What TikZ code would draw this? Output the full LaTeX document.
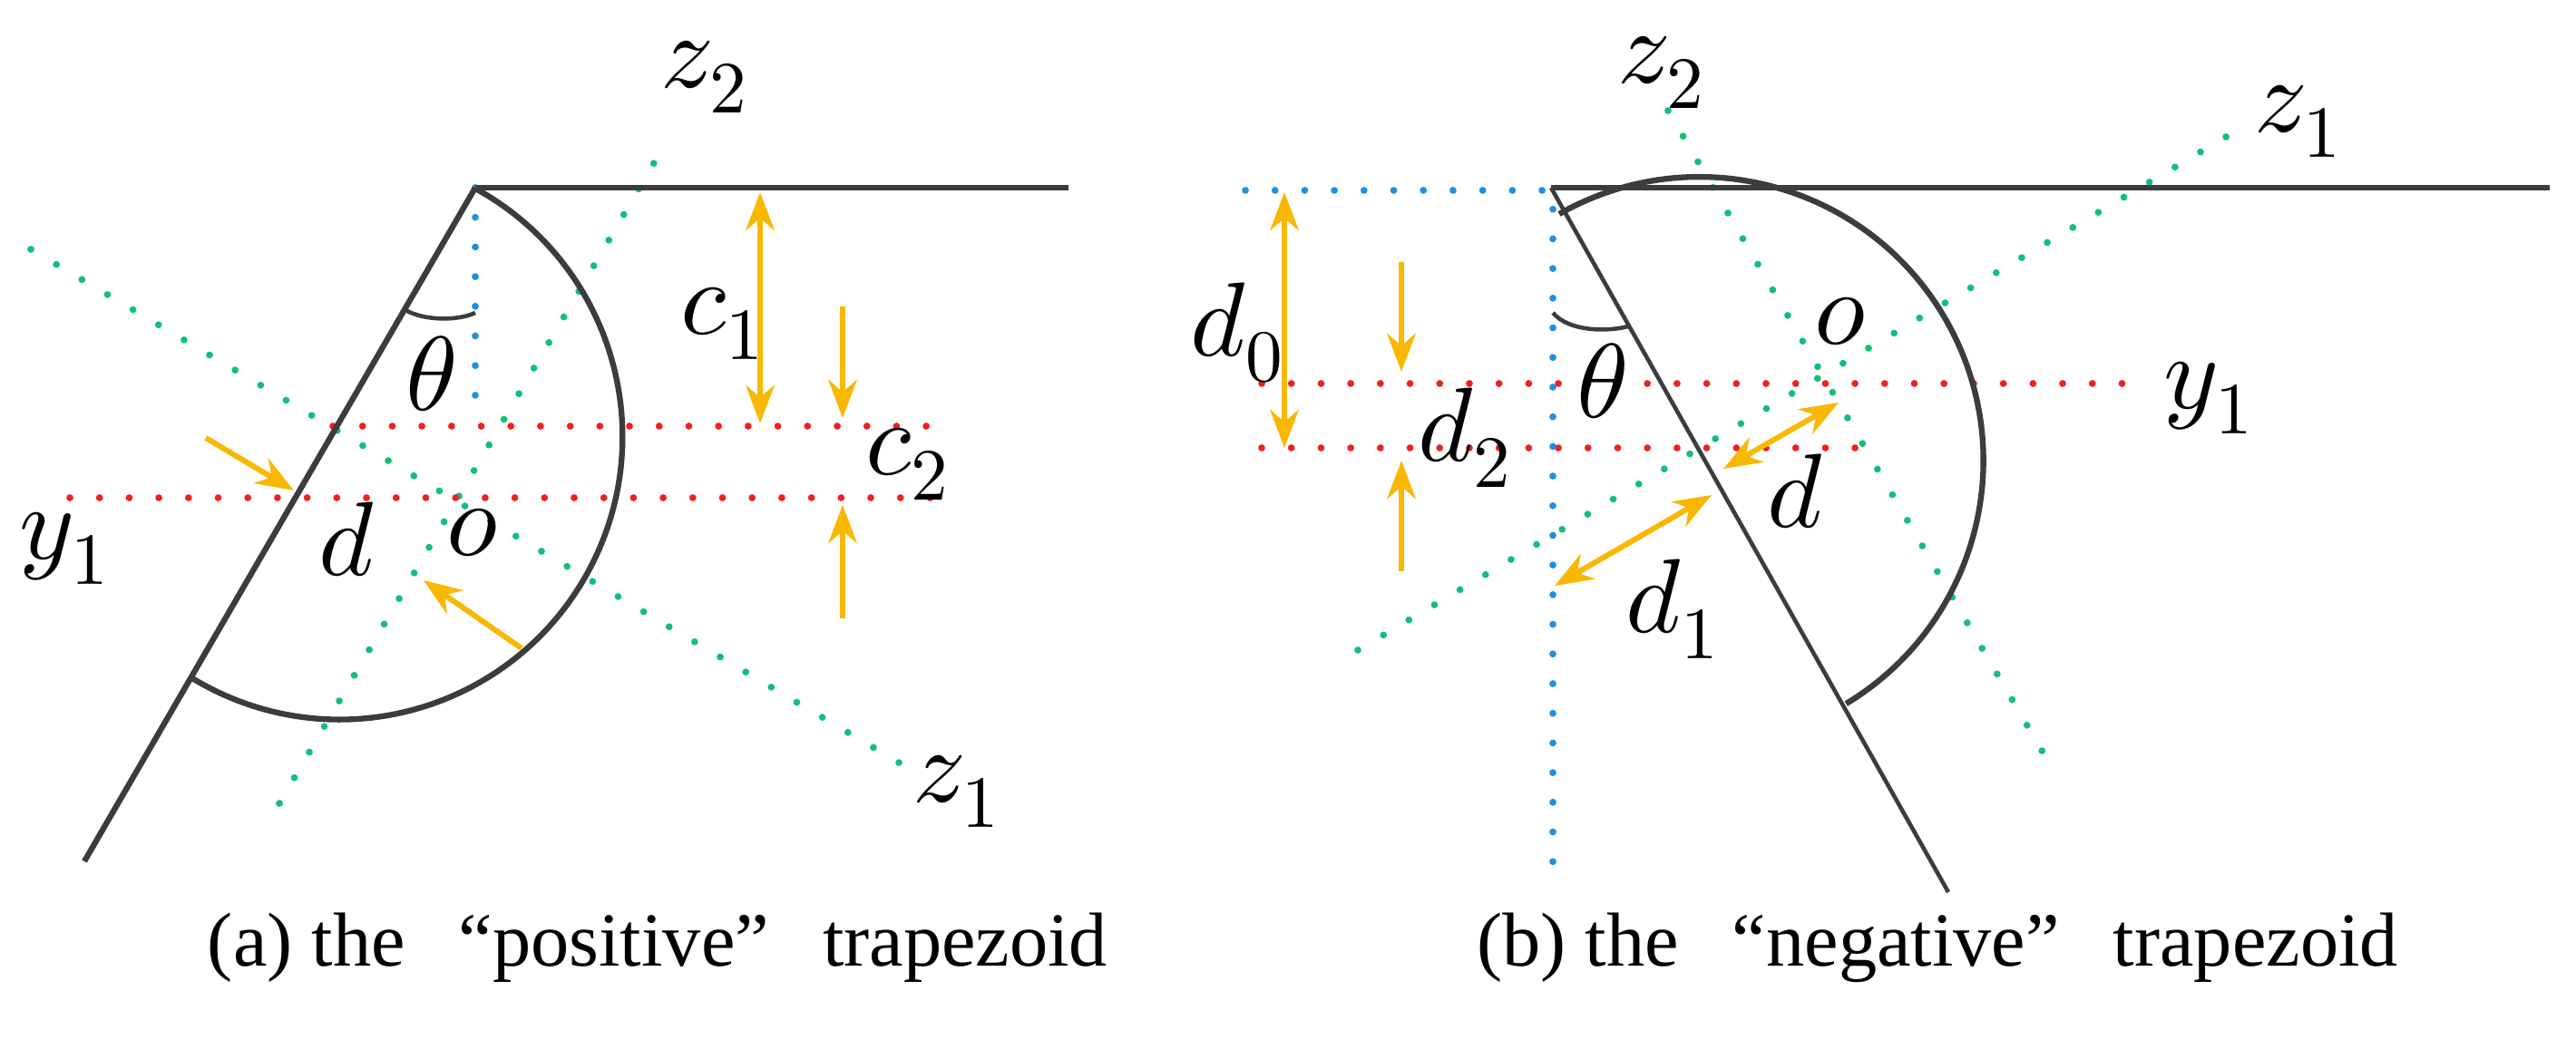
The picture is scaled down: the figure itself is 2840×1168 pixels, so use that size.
\documentclass[tikz,border=0pt]{standalone}
\usepackage{fontspec}
\setmainfont{Liberation Serif}
\usepackage{unicode-math}
\usetikzlibrary{arrows.meta}
\definecolor{gr}{HTML}{12C074}
\definecolor{rd}{HTML}{F02020}
\definecolor{bl}{HTML}{1E90E0}
\definecolor{og}{HTML}{F8B800}
\definecolor{dk}{HTML}{3C3C3C}
\begin{document}
\begin{tikzpicture}[x=0.01cm,y=0.01cm,
  dot/.style={line width=2.2pt,line cap=round,dash pattern=on 0pt off 9.3pt},
  ln/.style={dk,line width=1.8pt},
  ar/.style={og,line width=1.7pt,-{Stealth[length=12pt,width=9pt]}},
  dar/.style={og,line width=1.7pt,{Stealth[length=12pt,width=9pt]}-{Stealth[length=12pt,width=9pt]}},
  lb/.style={font=\fontsize{33}{36}\selectfont,inner sep=0pt},
  captxt/.style={font=\fontsize{24}{28}\selectfont,inner sep=0pt}]
\useasboundingbox (0,0) rectangle (2840,-1168);
% ---------- panel (a)
\coordinate (A) at (524,-207);
\draw[dot,gr] (34,-275) -- (1001,-847);
\draw[dot,gr] (308,-886) -- (736,-154);
\draw[dot,rd] (367,-470) -- (1033,-470);
\draw[dot,rd] (77,-549) -- (1051,-549);
\draw[dot,bl] (A) -- (524,-461);
\draw[ln] (A) -- (1178,-207);
\draw[ln] (A) -- (93,-950);
\draw[ln] (526,-209) arc[start angle=60.9,end angle=-121.2,radius=312];
\draw[dk,line width=1.3pt] (447,-342) .. controls (468,-354) and (505,-354) .. (524,-345);
\draw[dar] (838,-212) -- (838,-467);
\draw[ar] (929,-338) -- (929,-461);
\draw[ar] (929,-682) -- (929,-557);
\draw[ar] (227,-483) -- (324,-541);
\draw[ar] (575,-715) -- (467,-640);
\node[lb] (th1) at (476,-412) {$\theta$};
\node[lb] (c1) at (797,-357) {$c_1$};
\node[lb] (c2) at (1001,-512) {$c_2$};
\node[lb] (da) at (383,-595) {$d$};
\node[lb] (o1) at (521,-587) {$o$};
\node[lb] (y1a) at (71,-605) {$y_1$};
\node[lb] (z2a) at (777,-85) {$z_2$};
\node[lb] (z1a) at (1055,-873) {$z_1$};
\node[captxt] (capa) at (725,-1045) {(a) the\hspace{0.7em}“positive”\hspace{0.7em}trapezoid};
% ---------- panel (b)
\coordinate (B) at (1712,-210);
\draw[dot,gr] (1839,-122) -- (2264,-850);
\draw[dot,gr] (1497,-717) -- (2471,-141);
\draw[dot,rd] (1391,-423) -- (2362,-423);
\draw[dot,rd] (1391,-494) -- (2054,-494);
\draw[dot,bl] (1373,-210) -- (B) -- (1712,-966);
\draw[ln] (1710,-207) -- (2811,-207);
\draw[ln,line width=1.3pt] (1710,-207) -- (2148,-984);
\draw[ln] (1719,-236) arc[start angle=119.6,end angle=-58.9,radius=313];
\draw[dk,line width=1.3pt] (1712,-345) .. controls (1730,-366) and (1772,-366) .. (1795,-360);
\draw[dar] (1416,-212) -- (1416,-494);
\draw[ar] (1545,-289) -- (1545,-410);
\draw[ar] (1545,-630) -- (1545,-508);
\draw[dar] (1900,-517) -- (2027,-444);
\draw[dar] (1714,-646) -- (1887,-546);
\node[lb] (th2) at (1766,-420) {$\theta$};
\node[lb] (d0) at (1364,-367) {$d_0$};
\node[lb] (d2) at (1615,-483) {$d_2$};
\node[lb] (db) at (1980,-542) {$d$};
\node[lb] (d1b) at (1844,-672) {$d_1$};
\node[lb] (o2) at (2029,-355) {$o$};
\node[lb] (y1b) at (2435,-439) {$y_1$};
\node[lb] (z2b) at (1832,-80) {$z_2$};
\node[lb] (z1b) at (2534,-134) {$z_1$};
\node[captxt] (capb) at (2136,-1045) {(b) the\hspace{0.7em}“negative”\hspace{0.7em}trapezoid};
\end{tikzpicture}
\end{document}
